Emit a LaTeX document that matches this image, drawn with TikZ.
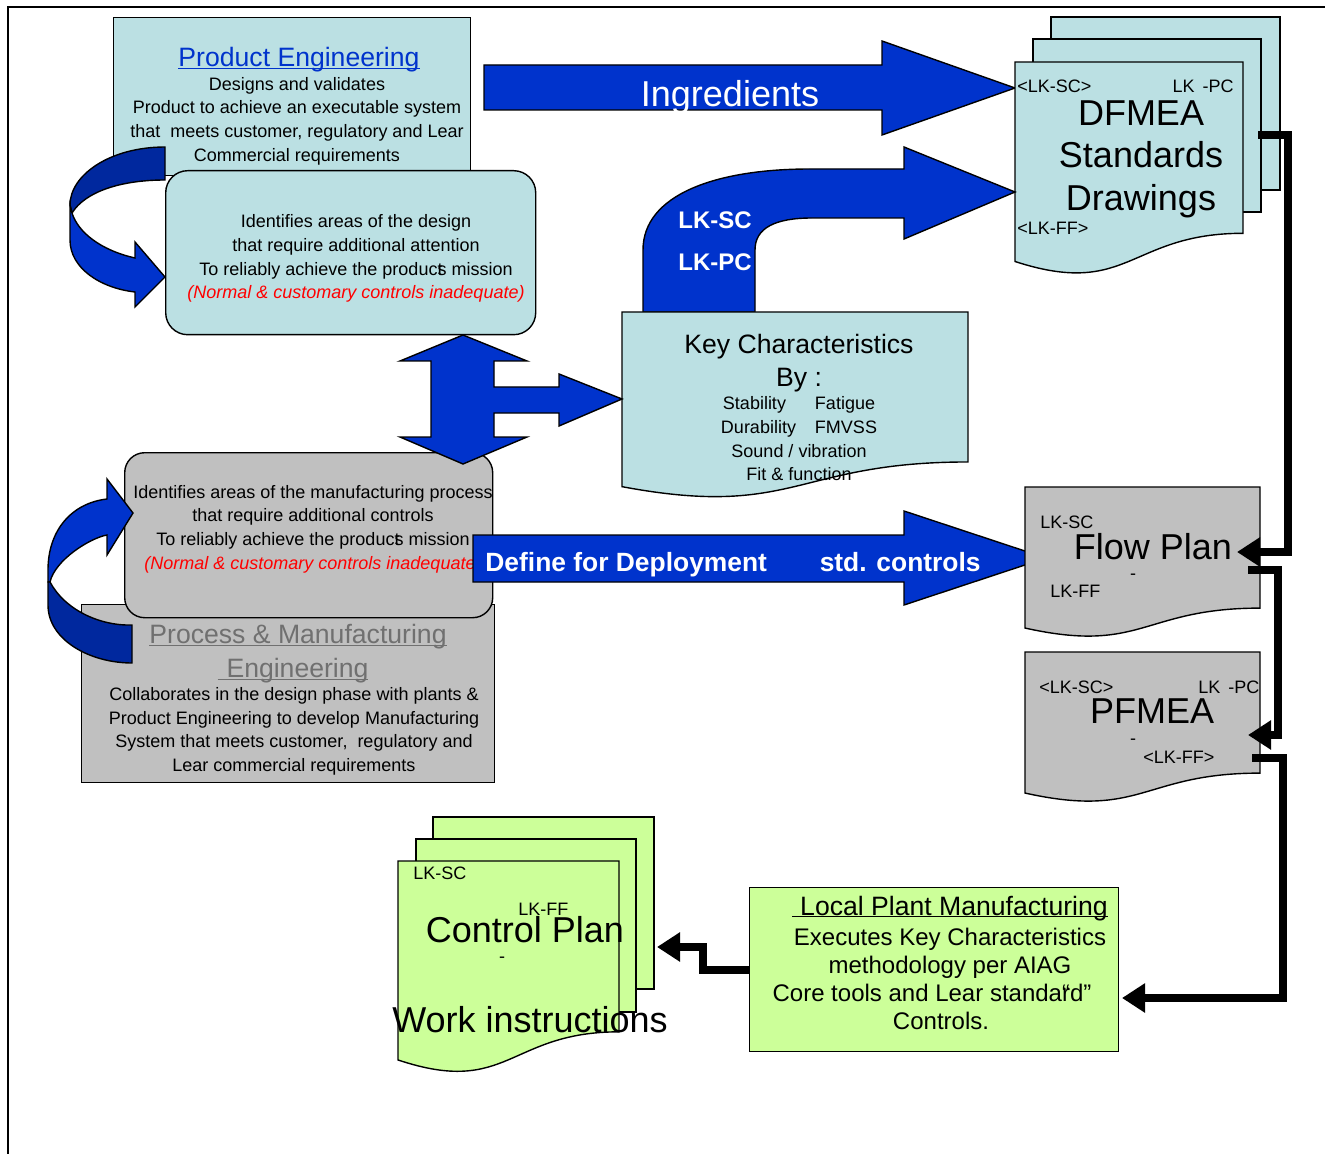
\documentclass[tikz,border=0pt]{standalone}
\usepackage{fontspec}
\setmainfont{Liberation Sans}
\usepackage{tikz}
\usetikzlibrary{positioning,arrows.meta}

\definecolor{kcblue}{RGB}{187,224,227}
\definecolor{arrowblue}{RGB}{0,51,204}
\definecolor{deepblue}{RGB}{0,40,158}
\definecolor{boxgray}{RGB}{192,192,192}
\definecolor{plantgreen}{RGB}{204,255,153}
\definecolor{titlegray}{RGB}{112,112,112}

% page with a wavy bottom: x, y, width, height, fill
\newcommand{\docsheet}[5]{%
  \filldraw[fill=#5,draw=black,line width=0.7pt] (#1,#2) -- ({#1+#3},#2) -- ({#1+#3},{#2+0.802*#4})
    .. controls ({#1+0.5*#3},{#2+0.802*#4}) and ({#1+0.5*#3},{#2+1.1075*#4}) .. (#1,{#2+0.934*#4}) -- cycle;}
% underline close to the baseline, optional lead-in
\newcommand{\titleline}[2][0pt]{\setbox0\hbox{\hspace{#1}#2}\rlap{\rule[-1.2pt]{\wd0}{0.6pt}}\box0}

\begin{document}
\begin{tikzpicture}[x=0.5pt,y=-0.5pt,
  panel/.style={draw=black,line width=0.7pt,inner sep=0pt,anchor=north west},
  sheet/.style={fill=#1,draw=black,line width=0.7pt},
  blockarrow/.style={fill=arrowblue,draw=black,line width=0.7pt},
  shadearrow/.style={fill=deepblue,draw=black,line width=0.7pt},
  body/.style={font=\fontsize{9}{11.85}\selectfont,align=center,inner sep=0pt},
  tag/.style={font=\fontsize{9}{11}\selectfont,inner sep=0pt},
  big/.style={font=\fontsize{18}{21.25}\selectfont,align=center,inner sep=0pt},
  head/.style={font=\fontsize{13.3}{17}\selectfont,inner sep=0pt,anchor=base},
  onarrow/.style={font=\fontsize{13.2}{14}\selectfont\bfseries,text=white,inner sep=0pt,anchor=base},
  flow/.style={line width=4pt,line join=miter,-{Triangle[length=11.5pt,width=14pt]}}]

    \useasboundingbox (0,0) rectangle (1325,1154);
    \draw[line width=1pt] (8,1154) -- (8,7) -- (1325,7);

    % product engineering
    \node[panel,fill=kcblue,minimum width=178.5pt,minimum height=79pt] (peng) at (113,17) {};
    \node[head,text=arrowblue] (pengT) at (299,66.5) {\titleline{Product Engineering}};
    \node[body] (pengB) at (297,121) {Designs and validates\\Product to achieve an executable system\\that\ \ meets customer, regulatory and Lear\\Commercial requirements};

    \filldraw[shadearrow] (165,147) .. controls (110,147) and (70,175) .. (70,205) -- (72,213) .. controls (85,192) and (120,180) .. (165,180) -- cycle;
    \filldraw[blockarrow] (70,205) -- (70,240) .. controls (70,268) and (100,288) .. (135,292) -- (135,307) -- (165,277) -- (135,242) -- (135,258) .. controls (100,250) and (78,232) .. (72,213) -- cycle;

    \node[panel,fill=kcblue,rounded corners=11pt,minimum width=185pt,minimum height=82pt] (pdes) at (165,170) {};
    \node[body] (pdesB) at (356,258.5) {Identifies areas of the design\\that require additional attention\\To reliably achieve the produc\makebox[0pt][l]{t}s mission\\\textcolor{red}{\itshape (Normal \& customary controls inadequate)}};

    % ingredients
    \filldraw[blockarrow] (484,65) -- (882,65) -- (882,41) -- (1015,88) -- (882,135) -- (882,110) -- (484,110) -- cycle;
    \node[font=\fontsize{18}{20}\selectfont,text=white,inner sep=0pt,anchor=base] (ingr) at (730,107) {Ingredients};

    % dfmea stack
    \filldraw[sheet=kcblue] (1051,17) rectangle (1280,190);
    \filldraw[sheet=kcblue] (1033,39) rectangle (1261,212);
    \docsheet{1015}{62}{228}{213.6}{kcblue}
    \node[tag,anchor=west] (dfSC) at (1017,86) {<LK-SC>};
    \node[tag,anchor=east] (dfPC) at (1234,86) {LK\hspace{4pt}-PC};
    \node[big] (dfmea) at (1141,159) {DFMEA\\Standards\\Drawings};
    \node[tag,anchor=west] (dfFF) at (1017,228) {<LK-FF>};

    % key characteristics
    \filldraw[blockarrow] (643,312) -- (643,250) .. controls (643,195) and (715,169) .. (810,169) -- (904,169) -- (904,147) -- (1015,192) -- (904,239) -- (904,218) -- (812,218) .. controls (775,218) and (755,228) .. (755,250) -- (755,312) -- cycle;
    \node[font=\fontsize{12}{14}\selectfont\bfseries,text=white,inner sep=0pt] (arSC) at (715,220) {LK-SC};
    \node[font=\fontsize{12}{14}\selectfont\bfseries,text=white,inner sep=0pt] (arPC) at (715,262) {LK-PC};
    \docsheet{622}{312}{346}{187}{kcblue}
    \node[font=\fontsize{13.3}{16.5}\selectfont,align=center,inner sep=0pt] (kcT) at (799,363) {Key Characteristics\\By :};
    \node[body] (kcB) at (799,439) {Stability\hspace{14.5pt}Fatigue\\Durability\hspace{9.5pt}FMVSS\\Sound / vibration\\Fit \& function};

    % process & manufacturing engineering
    \node[panel,fill=boxgray,minimum width=206.5pt,minimum height=89pt] (proc) at (81,604) {};
    \node[head,text=titlegray] (procT) at (298,643.5) {\titleline{Process \& Manufacturing}};
    \node[head,text=titlegray] (procE) at (293,677.5) {\titleline[4.5pt]{Engineering}};
    \node[body] (procB) at (294,731.4) {Collaborates in the design phase with plants \&\\Product Engineering to develop Manufacturing\\System that meets customer,\ \ regulatory and\\Lear commercial requirements};

    \node[panel,fill=boxgray,rounded corners=10pt,minimum width=184pt,minimum height=82.5pt] (pman) at (124,452) {};
    \node[body] (pmanB) at (313,529) {Identifies areas of the manufacturing process\\that require additional controls\\To reliably achieve the produc\makebox[0pt][l]{t}s mission\\\textcolor{red}{\itshape (Normal \& customary controls inadequate)}};

    \filldraw[blockarrow] (48,582) -- (48,570) .. controls (48,530) and (72,503) .. (107,499) -- (107,479) -- (133,513) -- (107,555) -- (107,535) .. controls (90,538) and (55,560) .. (50,582) -- cycle;
    \filldraw[shadearrow] (48,582) -- (48,605) .. controls (48,640) and (90,663) .. (132,663) -- (132,625) .. controls (100,626) and (65,610) .. (50,582) -- cycle;

    % both ways
    \filldraw[blockarrow] (463,335) -- (527,361) -- (494,361) -- (494,387) -- (559,387) -- (559,374) -- (622,399) -- (559,426) -- (559,413) -- (494,413) -- (494,437) -- (527,437) -- (463,464) -- (400,437) -- (431,437) -- (431,361) -- (400,361) -- cycle;

    % deployment
    \filldraw[blockarrow] (473,535) -- (904,535) -- (904,511) -- (1046,558) -- (904,605) -- (904,582) -- (473,582) -- cycle;
    \node[onarrow,anchor=base west] (defn) at (485,571) {Define for Deployment};
    \node[onarrow,anchor=base east] (stdc) at (981,571) {std. controls};

    % flow plan, pfmea
    \docsheet{1025}{487}{235}{151}{boxgray}
    \node[tag,anchor=west] (fpSC) at (1040,522) {LK-SC};
    \node[big] (fplan) at (1153,547) {Flow Plan};
    \node[tag] (fpDash) at (1133,577) {-};
    \node[tag,anchor=west] (fpFF) at (1050,591) {LK-FF};

    \docsheet{1025}{652}{235}{151}{boxgray}
    \node[tag,anchor=west] (pfSC) at (1039,687) {<LK-SC>};
    \node[tag,anchor=west] (pfPC) at (1198,687) {LK\hspace{4pt}-PC};
    \node[big] (pfmea) at (1152,711) {PFMEA};
    \node[tag] (pfDash) at (1133,742) {-};
    \node[tag,anchor=west] (pfFF) at (1143,757) {<LK-FF>};

    % control plan stack
    \filldraw[sheet=plantgreen] (433,817) rectangle (654,989);
    \filldraw[sheet=plantgreen] (416,839) rectangle (636,1012);
    \docsheet{398}{861}{221}{213}{plantgreen}
    \node[tag,anchor=west] (cpSC) at (413,873) {LK-SC};
    \node[tag,anchor=west] (cpFF) at (518,909) {LK-FF};
    \node[big] (cplan) at (525,929.5) {Control Plan};
    \node[tag] (cpDash) at (502,960) {-};
    \node[big] (winst) at (530,1020) {Work instructions};

    % local plant
    \node[panel,fill=plantgreen,minimum width=184.5pt,minimum height=82pt] (plant) at (749,887) {};
    \node[font=\fontsize{12}{14}\selectfont,align=center,inner sep=0pt] (plantB) at (950,962.5) {{\fontsize{13.3}{14}\selectfont\titleline[4pt]{Local Plant Manufacturing}}\\[1pt]Executes Key Characteristics\\methodology per AIAG\\Core tools and Lear standa\makebox[0pt][l]{“}rd”\makebox[18pt]{}\\Controls.\makebox[9pt]{}};

    % connectors
    \coordinate (dfOut) at (1258,135);
    \coordinate (flowIn) at (1237,552);
    \coordinate (flowOut) at (1248,570);
    \coordinate (pfIn) at (1248,735);
    \coordinate (pfOut) at (1252,758);
    \coordinate (plantIn) at (1122,998);
    \coordinate (cpIn) at (657,947);

    \draw[flow] (dfOut) -- ++(30,0) |- (flowIn);
    \draw[flow] (flowOut) -- ++(30,0) |- (pfIn);
    \draw[flow] (pfOut) -- ++(31,0) |- (plantIn);
    \draw[flow] (plant.west) -- ++(-46,0) |- (cpIn);
\end{tikzpicture}
\end{document}
